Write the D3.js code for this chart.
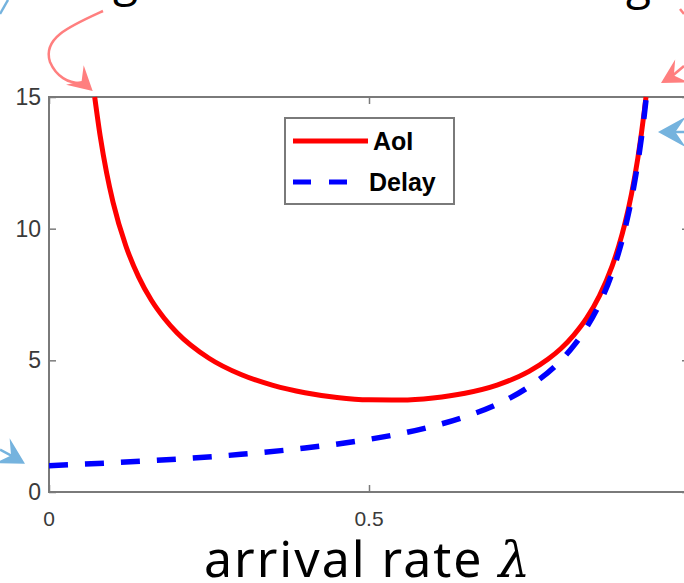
<!DOCTYPE html>
<html>
<head>
<meta charset="utf-8">
<script src="https://cdn.jsdelivr.net/npm/d3@7"></script>
<style>
body { margin: 0; background: #fff; }
svg { display: block; }
</style>
</head>
<body>
<script>
// values
var lambda_aoi = [0.0714, 0.08, 0.09, 0.10, 0.12, 0.14, 0.16, 0.18, 0.20, 0.25, 0.30, 0.35, 0.40, 0.45, 0.50,
	0.55, 0.60, 0.65, 0.70, 0.75, 0.78, 0.80, 0.82, 0.84, 0.86, 0.88, 0.89, 0.90, 0.91, 0.92, 0.93, 0.9328];
var aoi = [15.0, 13.51, 12.12, 11.01, 9.35, 8.17, 7.28, 6.60, 6.05, 5.08, 4.46, 4.05, 3.77, 3.59, 3.50,
	3.49, 3.57, 3.75, 4.06, 4.58, 5.05, 5.45, 5.96, 6.60, 7.45, 8.59, 9.32, 10.21, 11.30, 12.67, 14.43, 15.0];

var lambda_delay = [0, 0.1, 0.2, 0.3, 0.4, 0.5, 0.55, 0.6, 0.65, 0.7, 0.75, 0.8, 0.82, 0.84, 0.86, 0.88,
	0.90, 0.91, 0.92, 0.93, 0.9333];
var delay = [1.0, 1.11, 1.25, 1.43, 1.67, 2.0, 2.22, 2.5, 2.86, 3.33, 4.0, 5.0, 5.56, 6.25, 7.14, 8.33,
	10.0, 11.11, 12.5, 14.29, 15.0];

var x_ticks = [0, 0.5, 1];
var x_tick_labels = ["0", "0.5"]; // the "1" label falls outside the picture
var y_ticks = [0, 5, 10, 15];
var series_names = ["AoI", "Delay"];
var series_colors = ["#ff0000", "#0000ff"];

// plot box
var W = 684, H = 583;
var box = {left: 49, right: 689, top: 97, bottom: 492};

var svg = d3.select("body")
	.append("svg")
	.attr("width", W)
	.attr("height", H);

var x = d3.scaleLinear().domain([0, 1]).range([box.left, box.right]);
var y = d3.scaleLinear().domain([0, 15]).range([box.bottom, box.top]);

svg.append("defs").append("clipPath")
	.attr("id", "plotclip")
	.append("rect")
	.attr("x", box.left)
	.attr("y", box.top - 1)
	.attr("width", box.right - box.left)
	.attr("height", box.bottom - box.top + 1);

// cut-off heading above the chart (only descenders show)
svg.append("text")
	.attr("x", 113)
	.attr("y", -4)
	.style("font-family", "Open Sans")
	.style("font-size", "46px")
	.style("fill", "#000")
	.text("g");
svg.append("text")
	.attr("x", 626)
	.attr("y", -1)
	.style("font-family", "Open Sans")
	.style("font-size", "46px")
	.style("fill", "#000")
	.text("g");

// axes (box on, ticks inward)
var axisColor = "#7a7a7a";
var tickLen = 7;

svg.append("rect")
	.attr("x", box.left)
	.attr("y", box.top)
	.attr("width", box.right - box.left)
	.attr("height", box.bottom - box.top)
	.attr("fill", "none")
	.attr("stroke", axisColor)
	.attr("stroke-width", 2);

var xb = svg.append("g")
	.attr("transform", "translate(0," + box.bottom + ")")
	.call(d3.axisTop(x).tickValues(x_ticks).tickSize(tickLen).tickFormat(""));
var xt = svg.append("g")
	.attr("transform", "translate(0," + box.top + ")")
	.call(d3.axisBottom(x).tickValues(x_ticks).tickSize(tickLen).tickFormat(""));
var yl = svg.append("g")
	.attr("transform", "translate(" + box.left + ",0)")
	.call(d3.axisRight(y).tickValues(y_ticks).tickSize(tickLen).tickFormat(""));
var yr = svg.append("g")
	.attr("transform", "translate(" + box.right + ",0)")
	.call(d3.axisLeft(y).tickValues(y_ticks).tickSize(tickLen).tickFormat(""));

[xb, xt, yl, yr].forEach(function(a) {
	a.select(".domain").remove();
	a.selectAll("line").attr("stroke", axisColor).attr("stroke-width", 1.5);
});

// tick labels
svg.selectAll(".xlab")
	.data(x_ticks.slice(0, x_tick_labels.length))
	.enter()
	.append("text")
	.attr("class", "xlab")
	.attr("x", (d) => x(d))
	.attr("y", box.bottom + 34)
	.style("text-anchor", "middle")
	.style("font-family", "Liberation Sans")
	.style("font-size", "21px")
	.style("fill", "#3a3a3a")
	.text((d, i) => x_tick_labels[i]);

svg.selectAll(".ylab")
	.data(y_ticks)
	.enter()
	.append("text")
	.attr("class", "ylab")
	.attr("x", box.left - 8)
	.attr("y", (d) => y(d) + 8)
	.style("text-anchor", "end")
	.style("font-family", "Liberation Sans")
	.style("font-size", "23px")
	.style("fill", "#3a3a3a")
	.text((d) => d);

// x label
var xlabel = svg.append("text")
	.attr("x", 204)
	.attr("y", 577)
	.style("font-family", "Noto Sans")
	.style("font-size", "50px")
	.style("letter-spacing", "2px")
	.style("fill", "#000");
xlabel.append("tspan").text("arrival rate ");
xlabel.append("tspan")
	.style("font-family", "DejaVu Serif")
	.style("font-style", "italic")
	.text("λ");

// curves
var line = d3.line()
	.x((d) => x(d[0]))
	.y((d) => y(d[1]))
	.curve(d3.curveMonotoneX);

var curves = svg.append("g").attr("clip-path", "url(#plotclip)");

curves.append("path")
	.datum(lambda_aoi.map((v, i) => [v, aoi[i]]))
	.attr("d", line)
	.attr("fill", "none")
	.attr("stroke", series_colors[0])
	.attr("stroke-width", 5);

curves.append("path")
	.datum(lambda_delay.map((v, i) => [v, delay[i]]))
	.attr("d", line)
	.attr("fill", "none")
	.attr("stroke", series_colors[1])
	.attr("stroke-width", 5.5)
	.attr("stroke-dasharray", "19,17");

// legend
var lg = svg.append("g");
lg.append("rect")
	.attr("x", 285)
	.attr("y", 118)
	.attr("width", 169)
	.attr("height", 86)
	.attr("fill", "#fff")
	.attr("stroke", axisColor)
	.attr("stroke-width", 2);

series_names.forEach(function(name, i) {
	var ly = 141 + i * 41;
	lg.append("line")
		.attr("x1", 293)
		.attr("x2", i == 1 ? 348 : 368)
		.attr("y1", ly)
		.attr("y2", ly)
		.attr("stroke", series_colors[i])
		.attr("stroke-width", 5)
		.attr("stroke-dasharray", i == 1 ? "18,18" : null);
	lg.append("text")
		.attr("x", i == 0 ? 373 : 369)
		.attr("y", ly + 9)
		.style("font-family", "Liberation Sans")
		.style("font-weight", "bold")
		.style("font-size", "25px")
		.style("fill", "#000")
		.text(name);
});

// slide annotation arrows
var pink = "#ff7f7f", blue = "#75b3de";

function arrowHead(tx, ty, angle, color, size)
{// notched arrow head with its tip at (tx, ty), pointing along angle (deg)
	var s = size || 22;
	svg.append("path")
		.attr("d", "M0,0 L" + (-s) + "," + (-s * 0.55) + " L" + (-s * 0.62) + ",0 L" + (-s) + "," + (s * 0.55) + " Z")
		.attr("fill", color)
		.attr("transform", "translate(" + tx + "," + ty + ") rotate(" + angle + ")");
}

// left pink: to where AoI leaves the top of the box
var lt = [x(0.0714) - 2, y(15) - 6];
svg.append("path")
	.attr("d", "M103,11 C70,26 42,38 50,62 C56,76 68,84 " + (lt[0] - 10) + "," + (lt[1] - 8))
	.attr("fill", "none")
	.attr("stroke", pink)
	.attr("stroke-width", 2.5);
arrowHead(lt[0], lt[1], 42, pink, 24);

// right pink
var rt = [x(0.9328) + 15, y(15) - 14];
svg.append("path")
	.attr("d", "M684,66 L" + (rt[0] + 10) + "," + (rt[1] - 6))
	.attr("stroke", pink)
	.attr("stroke-width", 2.5);
svg.append("path")
	.attr("d", "M680,9 L684,14")
	.attr("stroke", pink)
	.attr("stroke-width", 2.5);
arrowHead(rt[0], rt[1], 150, pink, 24);

// right blue
var bt = [x(0.9328) + 12, y(15) + 35];
svg.append("path")
	.attr("d", "M684," + bt[1] + " L" + (bt[0] + 12) + "," + bt[1])
	.attr("stroke", blue)
	.attr("stroke-width", 2.5);
arrowHead(bt[0], bt[1], 180, blue, 28);

// left blue near the start of the delay curve
var lb = [25, y(1) - 2];
svg.append("path")
	.attr("d", "M0," + (lb[1] - 14) + " L" + (lb[0] - 10) + "," + (lb[1] - 6))
	.attr("stroke", blue)
	.attr("stroke-width", 2.5);
arrowHead(lb[0], lb[1], 30, blue, 26);

// top-left blue fragment
svg.append("path")
	.attr("d", "M0,14 L8,0")
	.attr("stroke", blue)
	.attr("stroke-width", 2.5);
</script>
</body>
</html>
